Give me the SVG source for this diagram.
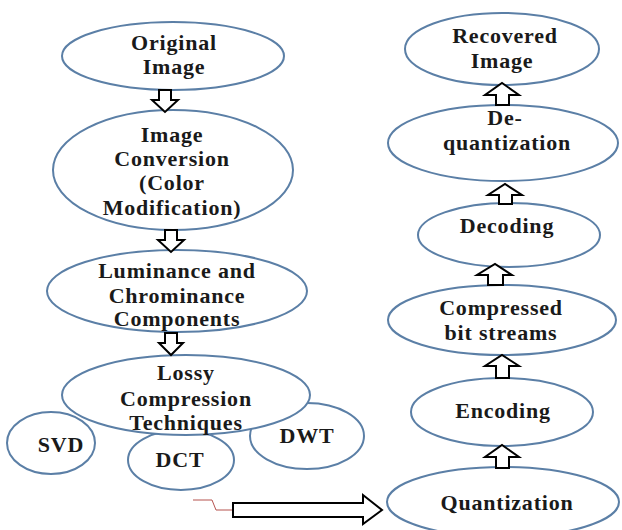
<svg xmlns="http://www.w3.org/2000/svg" width="622" height="530" viewBox="0 0 622 530">
<style>
.n ellipse{fill:#fff;stroke:#5b7fa6;stroke-width:2}
.n text{font-family:'Liberation Serif','DejaVu Serif','Noto Serif','Times New Roman',Times,serif;font-weight:bold;font-size:22px;letter-spacing:0.8px;fill:#1a1a1a;text-anchor:middle}
.a{fill:#fff;stroke:#000;stroke-width:2;stroke-linejoin:miter}
</style>
<rect width="622" height="530" fill="#fff"/>
<g id="svd" class="n"><ellipse cx="51" cy="443" rx="44" ry="31"/><text x="61" y="452" font-family="Liberation Serif, serif">SVD</text></g>
<g id="dct" class="n"><ellipse cx="181" cy="460" rx="53" ry="30"/><text x="180" y="467" font-family="Liberation Serif, serif">DCT</text></g>
<g id="dwt" class="n"><ellipse cx="307" cy="436" rx="57" ry="33"/><text x="307" y="443" font-family="Liberation Serif, serif">DWT</text></g>
<g id="original" class="n"><ellipse cx="173" cy="56" rx="111" ry="34"/><text x="174" y="50">Original</text><text x="174" y="74">Image</text></g>
<g id="conversion" class="n"><ellipse cx="173" cy="170" rx="120" ry="60"/><text x="172" y="142">Image</text><text x="172" y="166">Conversion</text><text x="172" y="190">(Color</text><text x="172" y="215">Modification)</text></g>
<g id="luminance" class="n"><ellipse cx="177" cy="291" rx="130" ry="41"/><text x="177" y="278">Luminance and</text><text x="177" y="303">Chrominance</text><text x="177" y="326">Components</text></g>
<g id="lossy" class="n"><ellipse cx="186" cy="395" rx="124" ry="40"/><text x="186" y="380">Lossy</text><text x="186" y="406">Compression</text><text x="186" y="430">Techniques</text></g>
<g id="recovered" class="n"><ellipse cx="502" cy="49" rx="97" ry="36"/><text x="505" y="43">Recovered</text><text x="502" y="68">Image</text></g>
<g id="dequant" class="n"><ellipse cx="503" cy="143" rx="115" ry="38"/><text x="505" y="125">De-</text><text x="507" y="150">quantization</text></g>
<g id="decoding" class="n"><ellipse cx="509" cy="235" rx="91" ry="32"/><text x="507" y="233">Decoding</text></g>
<g id="compressed" class="n"><ellipse cx="502" cy="320" rx="114" ry="35"/><text x="501" y="315">Compressed</text><text x="501" y="340">bit streams</text></g>
<g id="encoding" class="n"><ellipse cx="502" cy="412" rx="91" ry="34"/><text x="503" y="418">Encoding</text></g>
<g id="quantization" class="n"><ellipse cx="503" cy="502" rx="116" ry="35"/><text x="507" y="510">Quantization</text></g>
<g id="connectors">
<polygon class="a" points="159,90 171,90 171,100 178,100 165,112 152,100 159,100"/>
<polygon class="a" points="165,230 177,230 177,240 184,240 171,252 158,240 165,240"/>
<polygon class="a" points="165,333 177,333 177,343 183,343 171,355 159,343 165,343"/>
<polygon class="a" points="496,105 509,105 509,95 519,95 502,83 485,95 496,95"/>
<polygon class="a" points="499,204 512,204 512,195 522,195 505,184 488,195 499,195"/>
<polygon class="a" points="488,285 503,285 503,275 512,275 495,264 477,275 488,275"/>
<polygon class="a" points="496,378 509,378 509,366 519,366 502,355 485,366 496,366"/>
<polygon class="a" points="496,468 509,468 509,457 519,457 502,445 485,457 496,457"/>
<polyline points="193,500 212,500 216,510 233,510" fill="none" stroke="#b5534f" stroke-width="1"/>
<polygon class="a" points="233,503 363,503 363,495 382,510 363,524 363,517 233,517"/>
</g>
</svg>
